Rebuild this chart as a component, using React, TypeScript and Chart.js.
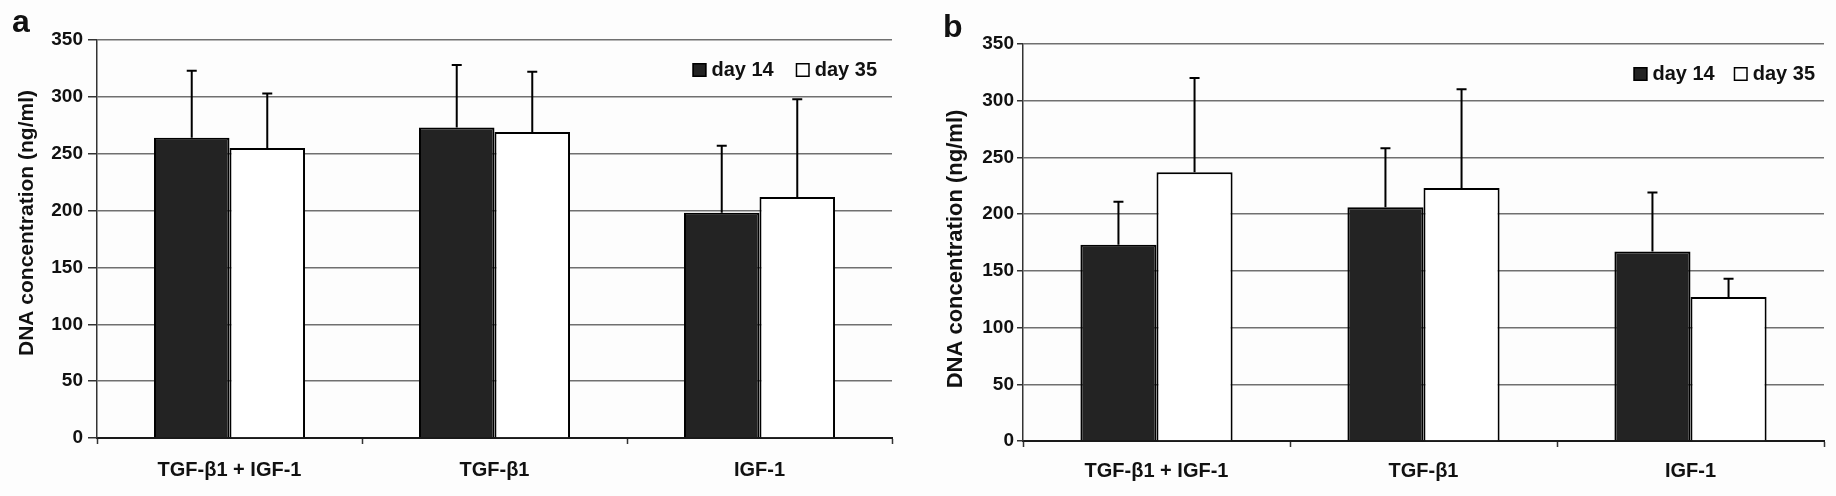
import { useEffect, useRef } from "react";
import { Chart, registerables } from "chart.js";

Chart.register(...registerables);

const FONT = "'Liberation Sans', Arial, sans-serif";
Chart.defaults.font.family = FONT;
Chart.defaults.color = "#111";

// data
const categories = ["TGF-β1 + IGF-1", "TGF-β1", "IGF-1"];
const seriesNames = ["day 14", "day 35"];
const yTicks = [0, 50, 100, 150, 200, 250, 300, 350];
const yTitle = "DNA concentration (ng/ml)";

// panel a
const aDay14 = [264, 273, 198];
const aDay14Sd = [59, 55, 59];
const aDay35 = [255, 269, 212];
const aDay35Sd = [48, 53, 86];

// panel b
const bDay14 = [173, 206, 167];
const bDay14Sd = [38, 52, 52];
const bDay35 = [237, 223, 127];
const bDay35Sd = [83, 87, 16];

// upward error bars with a small cap
const errorBars = {
  id: "errorBars",
  afterDatasetsDraw(chart: any) {
    const { ctx } = chart;
    const y = chart.scales.y;
    ctx.save();
    ctx.strokeStyle = "#000";
    ctx.lineWidth = 2;
    chart.data.datasets.forEach((ds: any, i: number) => {
      const meta = chart.getDatasetMeta(i);
      meta.data.forEach((bar: any, j: number) => {
        const top = y.getPixelForValue(ds.data[j] + ds.sd[j]);
        ctx.beginPath();
        ctx.moveTo(bar.x, bar.y);
        ctx.lineTo(bar.x, top);
        ctx.moveTo(bar.x - 5, top);
        ctx.lineTo(bar.x + 5, top);
        ctx.stroke();
      });
    });
    ctx.restore();
  },
};

// legend drawn inside the plot, top right
const insideLegend = {
  id: "insideLegend",
  afterDraw(chart: any, _args: any, opts: any) {
    const { ctx, chartArea } = chart;
    const datasets = chart.data.datasets;
    ctx.save();
    ctx.font = `bold 20px ${FONT}`;
    ctx.textBaseline = "middle";
    ctx.textAlign = "left";
    const cy = chartArea.top + opts.offsetY;
    let x = chartArea.right - opts.offsetX;
    for (let i = datasets.length - 1; i >= 0; i--) {
      const ds = datasets[i];
      const w = ctx.measureText(ds.label).width;
      x -= w;
      ctx.fillStyle = "#111";
      ctx.fillText(ds.label, x, cy);
      x -= 5 + 14;
      ctx.fillStyle = ds.backgroundColor;
      ctx.fillRect(x, cy - 7, 14, 14);
      ctx.lineWidth = 1.5;
      ctx.strokeStyle = "#000";
      ctx.strokeRect(x + 0.75, cy - 6.25, 12.5, 12.5);
      x -= opts.itemGap;
    }
    ctx.restore();
  },
};

// rotated y title, placed where the original has it (not centred on the axis)
const sideTitle = {
  id: "sideTitle",
  afterDraw(chart: any, _args: any, opts: any) {
    const { ctx } = chart;
    ctx.save();
    ctx.translate(opts.x, opts.y);
    ctx.rotate(-Math.PI / 2);
    ctx.font = `bold ${opts.size}px ${FONT}`;
    ctx.fillStyle = "#111";
    ctx.textAlign = "center";
    ctx.textBaseline = "alphabetic";
    ctx.fillText(opts.text, 0, 0);
    ctx.restore();
  },
};

interface Geom {
  left: number;
  width: number;
  padL: number;
  padR: number;
  padT: number;
  padB: number;
  yAxisW: number;
  xAxisH: number;
  yTickLen: number;
  yTickPad: number;
  xTickPad: number;
  legendX: number;
  legendGap: number;
  letterLeft: number;
  letterTop: number;
  titleX: number;
  titleY: number;
  titleSize: number;
}

interface PanelProps {
  letter: string;
  day14: number[];
  day14Sd: number[];
  day35: number[];
  day35Sd: number[];
  g: Geom;
}

const Panel: React.FC<PanelProps> = ({ letter, day14, day14Sd, day35, day35Sd, g }) => {
  const canvasRef = useRef<HTMLCanvasElement>(null);
  const chartRef = useRef<Chart | null>(null);

  useEffect(() => {
    if (!canvasRef.current) return;
    const ctx = canvasRef.current.getContext("2d");
    if (!ctx) return;
    if (chartRef.current) chartRef.current.destroy();

    chartRef.current = new Chart(ctx, {
      type: "bar",
      data: {
        labels: categories,
        datasets: [
          {
            label: seriesNames[0],
            data: day14,
            sd: day14Sd,
            backgroundColor: "#232323",
            borderColor: "#000",
            borderWidth: 2,
          } as any,
          {
            label: seriesNames[1],
            data: day35,
            sd: day35Sd,
            backgroundColor: "#ffffff",
            borderColor: "#000",
            borderWidth: 2,
          } as any,
        ],
      },
      options: {
        responsive: true,
        maintainAspectRatio: false,
        animation: false,
        datasets: { bar: { categoryPercentage: 0.57, barPercentage: 1 } },
        layout: { padding: { left: g.padL, right: g.padR, top: g.padT, bottom: g.padB } },
        plugins: {
          legend: { display: false },
          tooltip: { enabled: false },
          insideLegend: { offsetX: g.legendX, offsetY: 30, itemGap: g.legendGap },
          sideTitle: { text: yTitle, x: g.titleX, y: g.titleY, size: g.titleSize },
        } as any,
        scales: {
          x: {
            grid: {
              offset: true,
              drawOnChartArea: false,
              drawTicks: true,
              tickLength: 6,
              tickColor: "#333",
              tickWidth: 1.5,
            },
            border: { display: true, color: "#1a1a1a", width: 2 },
            ticks: { padding: g.xTickPad, font: { size: 20, weight: "bold" }, color: "#111" },
            afterFit: (axis: any) => {
              axis.height = g.xAxisH;
            },
          },
          y: {
            min: yTicks[0],
            max: yTicks[yTicks.length - 1],
            afterBuildTicks: (axis: any) => {
              axis.ticks = yTicks.map((v) => ({ value: v }));
            },
            grid: {
              color: "#707070",
              lineWidth: 1.5,
              tickLength: g.yTickLen,
              tickColor: "#333",
              tickWidth: 1.5,
            },
            border: { display: true, color: "#333", width: 1.5 },
            ticks: { padding: g.yTickPad, font: { size: 19, weight: "bold" }, color: "#111" },
            afterFit: (axis: any) => {
              axis.width = g.yAxisW;
            },
          },
        },
      },
      plugins: [errorBars, insideLegend, sideTitle],
    });

    return () => {
      if (chartRef.current) {
        chartRef.current.destroy();
        chartRef.current = null;
      }
    };
  }, [day14, day14Sd, day35, day35Sd, g]);

  return (
    <div style={{ position: "absolute", left: g.left, top: 0, width: g.width, height: 496 }}>
      <div
        style={{
          position: "absolute",
          left: g.letterLeft - g.left,
          top: g.letterTop,
          font: `bold 32px ${FONT}`,
          lineHeight: "32px",
          color: "#111",
        }}
      >
        {letter}
      </div>
      <canvas ref={canvasRef}></canvas>
    </div>
  );
};

const geomA: Geom = {
  left: 0,
  width: 905,
  padL: 12,
  padR: 13,
  padT: 40,
  padB: 8,
  yAxisW: 85,
  xAxisH: 50,
  yTickLen: 9,
  yTickPad: 5,
  xTickPad: 14,
  legendX: 15,
  legendGap: 22,
  letterLeft: 12,
  letterTop: 5,
  titleX: 33,
  titleY: 223,
  titleSize: 21,
};

const geomB: Geom = {
  left: 930,
  width: 906,
  padL: 12,
  padR: 12,
  padT: 44,
  padB: 8,
  yAxisW: 81,
  xAxisH: 47,
  yTickLen: 6,
  yTickPad: 3,
  xTickPad: 12,
  legendX: 9,
  legendGap: 19,
  letterLeft: 943,
  letterTop: 10,
  titleX: 32,
  titleY: 249,
  titleSize: 22,
};

export default function App() {
  return (
    <div
      style={{
        position: "fixed",
        left: 0,
        top: 0,
        width: 1836,
        height: 496,
        background: "#fdfdfd",
        overflow: "hidden",
      }}
    >
      <Panel letter="a" day14={aDay14} day14Sd={aDay14Sd} day35={aDay35} day35Sd={aDay35Sd} g={geomA} />
      <Panel letter="b" day14={bDay14} day14Sd={bDay14Sd} day35={bDay35} day35Sd={bDay35Sd} g={geomB} />
    </div>
  );
}
